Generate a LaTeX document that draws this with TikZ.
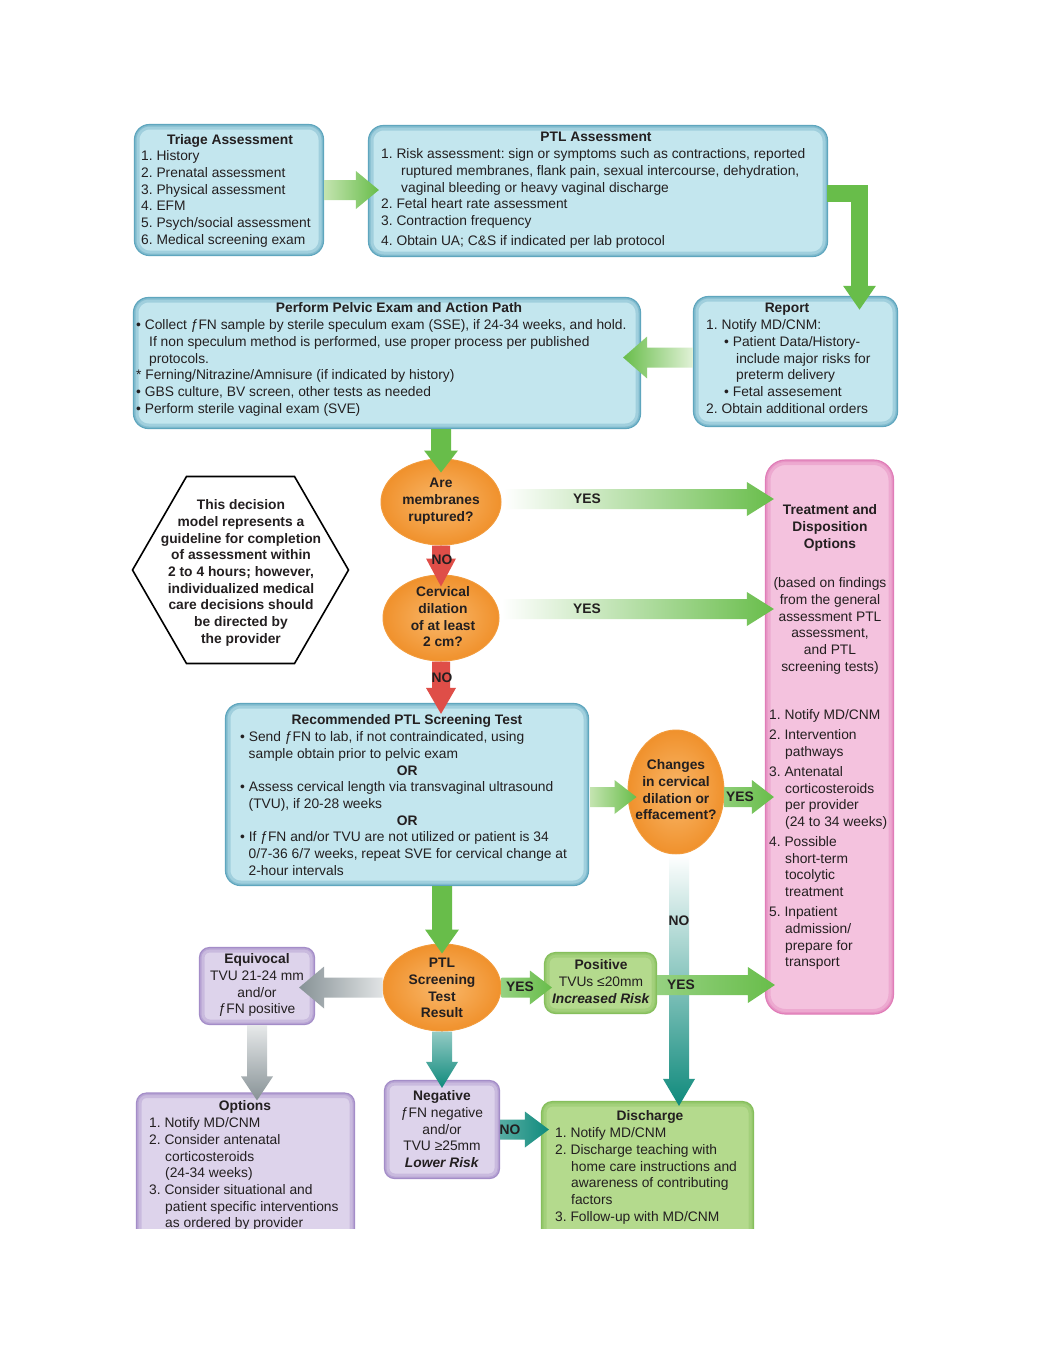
\documentclass[tikz,border=0pt]{standalone}
\usepackage{fontspec}
\setmainfont{Liberation Sans}
\usetikzlibrary{calc,shapes.geometric,arrows.meta}
\definecolor{bluefill}{HTML}{C3E6EE}
\definecolor{blueedge}{HTML}{5FA6BE}
\definecolor{grn}{HTML}{68BD4A}
\definecolor{grnlight}{HTML}{C4E4B0}
\definecolor{redarr}{HTML}{DF4E48}
\definecolor{orin}{HTML}{F9B86B}
\definecolor{orout}{HTML}{F0912C}
\definecolor{oredge}{HTML}{F29B3C}
\definecolor{pinkfill}{HTML}{F4C2DE}
\definecolor{pinkedge}{HTML}{E07DB8}
\definecolor{tealarr}{HTML}{0F8A7C}
\definecolor{grayarr}{HTML}{879296}
\definecolor{purfill}{HTML}{DDD3EB}
\definecolor{puredge}{HTML}{A48DC8}
\definecolor{gbfill}{HTML}{B4DA8D}
\definecolor{gbedge}{HTML}{86BF5C}
\definecolor{ink}{HTML}{231F20}
\frenchspacing
\newcommand\ftx{\fontsize{13.8}{16.7}\selectfont\frenchspacing}
\newcommand\fatarrow[6]{%
  \coordinate (faA) at #2;
  \coordinate (faB) at #3;
  \coordinate (faH) at ($(faB)!#6!(faA)$);
  \path[#1] ($(faA)!#4!90:(faB)$) -- ($(faH)!#4!-90:(faA)$) -- ($(faH)!#5!-90:(faA)$) -- (faB)
     -- ($(faH)!#5!90:(faA)$) -- ($(faH)!#4!90:(faA)$) -- ($(faA)!#4!-90:(faB)$) -- cycle;}
\tikzset{
  softbox/.style n args={3}{rectangle, inner sep=0, rounded corners=#3, fill=#1, draw=#2, line width=1.2pt,
    path picture={\draw[#2, line width=10pt, opacity=0.35, rounded corners=#3] (path picture bounding box.south west) rectangle (path picture bounding box.north east);
      \draw[#2, line width=4pt, opacity=0.45, rounded corners=#3] (path picture bounding box.south west) rectangle (path picture bounding box.north east);}},
  bluebox/.style={softbox={bluefill}{blueedge}{15pt}},
  pinkbox/.style={softbox={pinkfill}{pinkedge}{20pt}},
  purbox/.style={softbox={purfill}{puredge}{10pt}},
  gbox/.style={softbox={gbfill}{gbedge}{11pt}},
  qoval/.style={ellipse, inner sep=0, draw=oredge, line width=1pt, inner color=orin, outer color=orout},
  txt/.style={inner sep=0, font=\ftx, text=ink, align=left, anchor=north west},
  ctxt/.style={inner sep=0, font=\ftx, text=ink, align=center, anchor=north},
  btxt/.style={ctxt, font=\ftx\bfseries},
  lab/.style={inner sep=0, font=\ftx\bfseries, text=ink},
}
\begin{document}
\begin{tikzpicture}[x=1pt,y=-1pt]
\useasboundingbox (0,0) rectangle (1043,1350);
\fill[white] (0,0) rectangle (1043,1350);
\begin{scope}
\clip (0,0) rectangle (1043,1228);
% ---------- boxes ----------
\node[bluebox, minimum width=189pt, minimum height=131pt] (triage) at (229,190) {};
\node[btxt] at (230,132.8) {\strut Triage Assessment};
\node[txt] at (141,148.8) {\strut 1. History\\2. Prenatal assessment\\3. Physical assessment\\4. EFM\\5. Psych/social assessment\\6. Medical screening exam};

\node[bluebox, minimum width=459pt, minimum height=131pt] (ptl) at (598,191) {};
\node[btxt] at (596,129.8) {\strut PTL Assessment};
\node[txt] at (381,146.8) {\strut 1. Risk assessment: sign or symptoms such as contractions, reported\\\hspace*{20pt}ruptured membranes, flank pain, sexual intercourse, dehydration,\\\hspace*{20pt}vaginal bleeding or heavy vaginal discharge\\2. Fetal heart rate assessment\\3. Contraction frequency\\[3pt]4. Obtain UA; C\&S if indicated per lab protocol};

\node[bluebox, minimum width=204pt, minimum height=130pt] (report) at (795.5,361.5) {};
\node[btxt] at (787,300.8) {\strut Report};
\node[txt] at (706,317.8) {\strut 1. Notify MD/CNM:\\\hspace*{18pt}• Patient Data/History-\\\hspace*{30pt}include major risks for\\\hspace*{30pt}preterm delivery\\\hspace*{18pt}• Fetal assesement\\2. Obtain additional orders};

\node[bluebox, minimum width=507pt, minimum height=131pt] (pelvic) at (387,363) {};
\node[btxt] at (399,300.8) {\strut Perform Pelvic Exam and Action Path};
\node[txt] at (136,317.8) {\strut • Collect ƒFN sample by sterile speculum exam (SSE), if 24-34 weeks, and hold.\\\hspace*{13pt}If non speculum method is performed, use proper process per published\\\hspace*{13pt}protocols.\\{*} Ferning/Nitrazine/Amnisure (if indicated by history)\\• GBS culture, BV screen, other tests as needed\\• Perform sterile vaginal exam (SVE)};

\node[regular polygon, regular polygon sides=6, minimum size=216pt, draw=black, line width=1.6pt, inner sep=0] (hex) at (240.5,570) {};
\node[btxt] at (241,497.8) {\strut This decision\\model represents a\\guideline for completion\\of assessment within\\2 to 4 hours; however,\\individualized medical\\care decisions should\\be directed by\\the provider};

\node[qoval, minimum width=120pt, minimum height=86pt] (q1) at (441,502) {};
\node[btxt] at (441,475.8) {\strut Are\\membranes\\ruptured?};
\node[qoval, minimum width=116pt, minimum height=86pt] (q2) at (441,618) {};
\node[btxt] at (443,584.8) {\strut Cervical\\dilation\\of at least\\2 cm?};
\node[qoval, minimum width=96pt, minimum height=124pt] (q3) at (676,792) {};
\node[btxt] at (676,757.8) {\strut Changes\\in cervical\\dilation or\\effacement?};
\node[qoval, minimum width=118pt, minimum height=87pt] (q4) at (442,987.5) {};
\node[btxt] at (442,955.8) {\strut PTL\\Screening\\Test\\Result};

\node[pinkbox, minimum width=128pt, minimum height=554pt] (treat) at (829.5,737) {};
\node[btxt] at (830,502.8) {\strut Treatment and\\Disposition\\Options};
\node[ctxt] at (830,575.8) {\strut (based on findings\\from the general\\assessment PTL\\assessment,\\and PTL\\screening tests)};
\node[txt] at (769,707.8) {\strut 1. Notify MD/CNM\\[3.3pt]2. Intervention\\\hspace*{16pt}pathways\\[3.3pt]3. Antenatal\\\hspace*{16pt}corticosteroids\\\hspace*{16pt}per provider\\\hspace*{16pt}(24 to 34 weeks)\\[3.3pt]4. Possible\\\hspace*{16pt}short-term\\\hspace*{16pt}tocolytic\\\hspace*{16pt}treatment\\[3.3pt]5. Inpatient\\\hspace*{16pt}admission/\\\hspace*{16pt}prepare for\\\hspace*{16pt}transport};

\node[bluebox, minimum width=363pt, minimum height=182pt] (screen) at (407,794.5) {};
\node[btxt] at (407,712.8) {\strut Recommended PTL Screening Test};
\node[txt] at (240,729.8) {\strut • Send ƒFN to lab, if not contraindicated, using\\\hspace*{8.5pt}sample obtain prior to pelvic exam\\\makebox[334pt][c]{\bfseries OR}\\• Assess cervical length via transvaginal ultrasound\\\hspace*{8.5pt}(TVU), if 20-28 weeks\\\makebox[334pt][c]{\bfseries OR}\\• If ƒFN and/or TVU are not utilized or patient is 34\\\hspace*{8.5pt}0/7-36 6/7 weeks, repeat SVE for cervical change at\\\hspace*{8.5pt}2-hour intervals};

\node[purbox, minimum width=115pt, minimum height=77pt] (equiv) at (257,986) {};
\node[ctxt] at (257,951.8) {\strut\textbf{Equivocal}\\TVU 21-24 mm\\and/or\\ƒFN positive};

\node[gbox, minimum width=112pt, minimum height=61pt] (positive) at (600.5,983) {};
\node[ctxt] at (601,957.8) {\strut\textbf{Positive}\\TVUs ≤20mm\\\textbf{\textit{Increased Risk}}};

\node[purbox, minimum width=115pt, minimum height=98pt] (negative) at (442,1129.5) {};
\node[ctxt] at (442,1088.8) {\strut\textbf{Negative}\\ƒFN negative\\and/or\\TVU ≥25mm\\\textbf{\textit{Lower Risk}}};

\node[purbox, minimum width=218pt, minimum height=170pt] (options) at (245.5,1178) {};
\node[btxt] at (245,1098.8) {\strut Options};
\node[txt] at (149,1115.8) {\strut 1. Notify MD/CNM\\2. Consider antenatal\\\hspace*{16pt}corticosteroids\\\hspace*{16pt}(24-34 weeks)\\3. Consider situational and\\\hspace*{16pt}patient specific interventions\\\hspace*{16pt}as ordered by provider};

\node[gbox, minimum width=212pt, minimum height=160pt] (discharge) at (647.5,1181.5) {};
\node[btxt] at (650,1108.8) {\strut Discharge};
\node[txt] at (555,1125.8) {\strut 1. Notify MD/CNM\\2. Discharge teaching with\\\hspace*{16pt}home care instructions and\\\hspace*{16pt}awareness of contributing\\\hspace*{16pt}factors\\3. Follow-up with MD/CNM};

% ---------- arrows ----------
\fatarrow{left color=grnlight, right color=grn}{(triage.east)}{($(triage.east -| ptl.west)+(11,0)$)}{10pt}{19pt}{23pt}
\draw[grn, line width=17pt, -{Triangle[width=31pt,length=24pt]}] ($(ptl.east)+(-1,2)$) -| ($(report.north)+(64,14)$);
\fatarrow{left color=grn, right color=grnlight!50!white}{($(report.west)+(0,-4)$)}{($(report.west -| pelvic.east)+(-18,-4)$)}{10pt}{21pt}{24pt}
\fatarrow{fill=grn}{(pelvic.south -| q1.north)}{($(q1.north)+(0,14)$)}{10pt}{17pt}{22pt}
\fatarrow{left color=white, right color=grn}{($(q1.east)+(2,-3)$)}{($(q1.east -| treat.west)+(9,-3)$)}{10pt}{17pt}{27pt}
\fatarrow{fill=redarr}{(q1.south)}{($(q2.north)+(0,12)$)}{9pt}{15pt}{28pt}
\fatarrow{left color=white, right color=grn}{($(q2.east)+(2,-9)$)}{($(q2.east -| treat.west)+(9,-9)$)}{10pt}{17pt}{27pt}
\fatarrow{fill=redarr}{(q2.south)}{($(screen.north -| q2.south)+(0,11)$)}{9pt}{15pt}{26pt}
\fatarrow{left color=grnlight, right color=grn}{($(screen.east |- q3.west)+(1,5)$)}{($(q3.west)+(9,5)$)}{10pt}{17pt}{22pt}
\fatarrow{left color=grn!75!white, right color=grn}{($(q3.east)+(0,5)$)}{($(q3.east -| treat.west)+(9,5)$)}{10pt}{17pt}{22pt}
\fatarrow{top color=white, bottom color=tealarr}{($(q3.south)+(3,0)$)}{($(discharge.north -| q3.south)+(3,5)$)}{10pt}{16pt}{27pt}
\fatarrow{fill=grn}{(screen.south -| q4.north)}{($(q4.north)+(0,10)$)}{10pt}{17pt}{24pt}
\fatarrow{left color=grayarr, right color=grayarr!25!white}{(q4.west)}{($(q4.west -| equiv.east)+(-16,0)$)}{10pt}{21pt}{25pt}
\fatarrow{left color=grn!70!white, right color=grn}{(q4.east)}{($(q4.east -| positive.west)+(8,0)$)}{10pt}{17pt}{22pt}
\fatarrow{left color=grn!70!white, right color=grn}{($(positive.east)+(0,2)$)}{($(positive.east -| treat.west)+(10,2)$)}{10pt}{18pt}{27pt}
\fatarrow{top color=grayarr!20!white, bottom color=grayarr}{(equiv.south)}{($(options.north -| equiv.south)+(0,8)$)}{10pt}{16pt}{24pt}
\fatarrow{top color=tealarr!45!white, bottom color=tealarr}{(q4.south)}{($(negative.north)+(0,8)$)}{10pt}{16pt}{26pt}
\fatarrow{left color=tealarr!70!white, right color=tealarr}{(negative.east)}{($(negative.east -| discharge.west)+(8,0)$)}{10pt}{18pt}{24pt}

% ---------- labels ----------
\node[lab] at (587,499) {YES};
\node[lab] at (587,609) {YES};
\node[lab] at (740,797) {YES};
\node[lab] at (520,987) {YES};
\node[lab] at (681,985) {YES};
\node[lab] at (442,560) {NO};
\node[lab] at (442,678) {NO};
\node[lab] at (679,921) {NO};
\node[lab] at (510,1130) {NO};
\end{scope}
\end{tikzpicture}
\end{document}
